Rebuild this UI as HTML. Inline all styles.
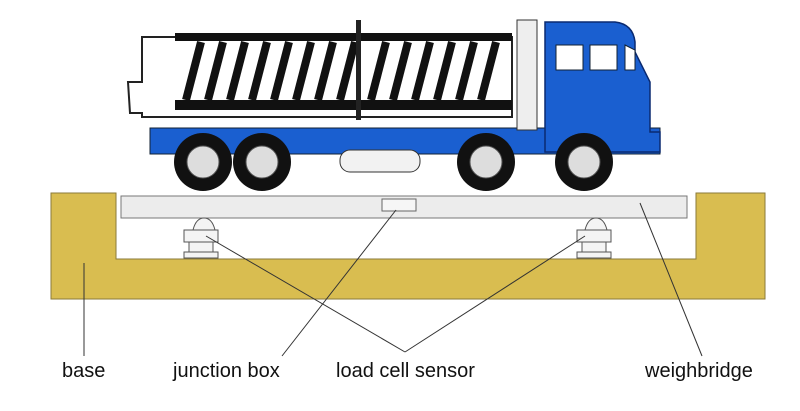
<!DOCTYPE html><html><head><style>body{margin:0;background:#fff;width:800px;height:411px;overflow:hidden}
.t{position:absolute;top:360px;font:20px "Liberation Sans",sans-serif;color:#111}</style></head><body>
<svg width="800" height="411" style="position:absolute;left:0;top:0">
<path d="M51,193H116V259H696V193H765V299H51Z" fill="#d9bd50" stroke="#8a7a3a"/>
<rect x="121" y="196" width="566" height="22" fill="#ececec" stroke="#777"/>
<rect x="382" y="199" width="34" height="12" fill="#f6f6f6" stroke="#666"/>
<g fill="#f4f4f4" stroke="#555">
<path d="M193,230 q3,-12 11,-12 q8,0 11,12z"/><rect x="184" y="230" width="34" height="12"/><rect x="189" y="242" width="24" height="10"/><rect x="184" y="252" width="34" height="6"/>
<path d="M585,230 q3,-12 11,-12 q8,0 11,12z"/><rect x="577" y="230" width="34" height="12"/><rect x="582" y="242" width="24" height="10"/><rect x="577" y="252" width="34" height="6"/>
</g>
<g stroke="#333" stroke-width="1"><line x1="84" y1="263" x2="84" y2="356"/><line x1="396" y1="210" x2="282" y2="356"/><line x1="206" y1="236" x2="405" y2="352"/><line x1="585" y1="236" x2="405" y2="352"/><line x1="640" y1="203" x2="702" y2="356"/></g>
<!-- truck -->
<path d="M128,82 h14 v-45 h370 v80 h-370 v-4 h-12 z" fill="#fff" stroke="#222" stroke-width="2"/>
<g stroke="#111" stroke-width="8">
<line x1="186" y1="100" x2="201" y2="42"/><line x1="208" y1="100" x2="223" y2="42"/><line x1="230" y1="100" x2="245" y2="42"/><line x1="252" y1="100" x2="267" y2="42"/><line x1="274" y1="100" x2="289" y2="42"/><line x1="296" y1="100" x2="311" y2="42"/><line x1="318" y1="100" x2="333" y2="42"/><line x1="340" y1="100" x2="355" y2="42"/><line x1="371" y1="100" x2="386" y2="42"/><line x1="393" y1="100" x2="408" y2="42"/><line x1="415" y1="100" x2="430" y2="42"/><line x1="437" y1="100" x2="452" y2="42"/><line x1="459" y1="100" x2="474" y2="42"/><line x1="481" y1="100" x2="496" y2="42"/></g>
<rect x="175" y="100" width="337" height="10" fill="#111"/><rect x="175" y="33" width="337" height="8" fill="#111"/>
<rect x="356" y="20" width="5" height="100" fill="#222"/>
<rect x="150" y="128" width="510" height="26" fill="#1a5fd0" stroke="#123" />
<path d="M545,22 h70 q18,2 20,20 v10 l15,30 v50 h10 v20 h-115 z" fill="#1a5fd0" stroke="#0a2a70" stroke-width="1.5"/>
<rect x="517" y="20" width="20" height="110" fill="#eee" stroke="#333"/>
<rect x="556" y="45" width="27" height="25" fill="#fff" stroke="#123"/><rect x="590" y="45" width="27" height="25" fill="#fff" stroke="#123"/><path d="M625,45 l10,5 v20 h-10z" fill="#fff" stroke="#123"/>
<rect x="340" y="150" width="80" height="22" rx="10" fill="#f2f2f2" stroke="#333"/>
<g fill="#111"><circle cx="203" cy="162" r="29"/><circle cx="262" cy="162" r="29"/><circle cx="486" cy="162" r="29"/><circle cx="584" cy="162" r="29"/></g>
<g fill="#ddd" stroke="#555"><circle cx="203" cy="162" r="16"/><circle cx="262" cy="162" r="16"/><circle cx="486" cy="162" r="16"/><circle cx="584" cy="162" r="16"/></g>
</svg>
<div class="t" style="left:62px">base</div><div class="t" style="left:173px">junction box</div><div class="t" style="left:336px">load cell sensor</div><div class="t" style="left:645px">weighbridge</div>
</body></html>
